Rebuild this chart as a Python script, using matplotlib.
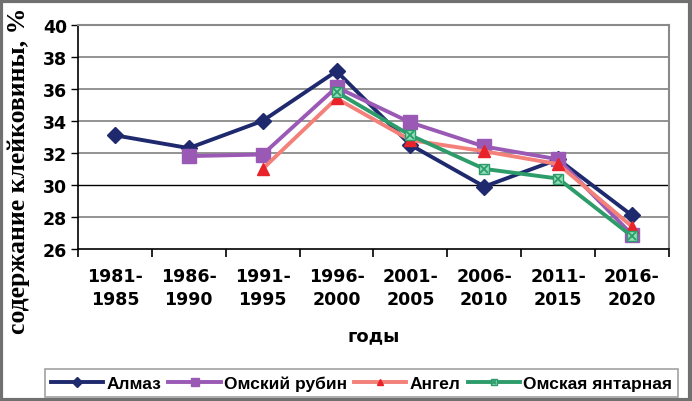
import matplotlib
matplotlib.use('Agg')
import matplotlib.pyplot as plt
import numpy as np
from matplotlib.patches import Rectangle
from matplotlib.legend_handler import HandlerTuple

periods = ['1981-\n1985', '1986-\n1990', '1991-\n1995', '1996-\n2000',
           '2001-\n2005', '2006-\n2010', '2011-\n2015', '2016-\n2020']
almaz = [33.1, 32.3, 34.0, 37.1, 32.5, 29.9, 31.6, 28.1]
rubin = [np.nan, 31.8, 31.9, 36.1, 33.9, 32.4, 31.6, 26.9]
angel = [np.nan, np.nan, 31.0, 35.4, 32.8, 32.1, 31.3, 27.4]
yantar = [np.nan, np.nan, np.nan, 35.8, 33.1, 31.0, 30.4, 26.8]

fig = plt.figure(figsize=(6.92, 4.02), dpi=100)
ax = fig.add_axes([0.1127, 0.378, 0.854, 0.558])
x = np.arange(len(periods))

# grid
for v in range(28, 41, 2):
    ax.axhline(v, color='black' if v == 30 else '#8a8a8a', lw=1.3 if v != 30 else 1.0, zorder=0)

l1, = ax.plot(x, almaz, color='#1f2a6e', lw=2.8, marker='D', ms=8, mec='#1f2a6e', label='Алмаз', zorder=3)
l2, = ax.plot(x, rubin, color='#9b59b6', lw=2.8, marker='s', ms=10, mec='#9b59b6', label='Омский рубин', zorder=4)
l3, = ax.plot(x, angel, color='#f4807a', lw=2.8, marker='^', ms=8, mfc='#e8232a', mec='#e8232a', label='Ангел', zorder=5)
l4, = ax.plot(x, yantar, color='#2e9c6a', lw=2.8, marker='s', ms=7, mfc='#8fe0b8', mec='#2e9c6a', label='Омская янтарная', zorder=6)
l4x, = ax.plot(x, yantar, ls='none', marker='x', ms=6, mew=1.3, color='#2e9c6a', zorder=7)

ax.set_xlim(-0.5, 7.5)
ax.set_ylim(26, 40)
ax.set_yticks(range(26, 41, 2))
ax.set_xticks(np.arange(-0.5, 8, 1))
ax.set_xticklabels([])
ax.set_xticks(x, minor=True)
ax.set_xticklabels(periods, minor=True)
ax.tick_params(axis='x', which='major', length=6, width=1.2, color='black', direction='out')
ax.tick_params(axis='x', which='minor', length=0, pad=13)
ax.tick_params(axis='y', length=5, width=1, direction='out', pad=3)
for lab in ax.get_xticklabels(minor=True) + ax.get_yticklabels():
    lab.set_fontfamily('DejaVu Sans')
    lab.set_fontweight('bold')
    lab.set_fontsize(12.5)
for lab in ax.get_xticklabels(minor=True):
    lab.set_linespacing(1.35)

ax.spines['left'].set_color('black')
ax.spines['bottom'].set_color('black')
ax.spines['left'].set_linewidth(1.2)
ax.spines['bottom'].set_linewidth(1.2)
ax.spines['top'].set_color('#8a8a8a')
ax.spines['right'].set_color('#8a8a8a')
ax.spines['top'].set_linewidth(1.5)
ax.spines['right'].set_linewidth(1.5)

ax.set_xlabel('годы', family='DejaVu Sans', fontweight='bold', fontsize=13, labelpad=13)
fig.text(0.027, 0.575, 'содержание клейковины, %', rotation=90, ha='center', va='center',
         family='Liberation Serif', fontweight='bold', fontsize=18.5)

leg = fig.legend([l1, l2, l3, (l4, l4x)], ['Алмаз', 'Омский рубин', 'Ангел', 'Омская янтарная'],
                 handler_map={tuple: HandlerTuple(ndivide=1)},
                 loc='lower left', bbox_to_anchor=(0.065, 0.01, 0.915, 0.087), mode='expand',
                 ncol=4, frameon=True, fancybox=False, edgecolor='#8a8a8a',
                 prop={'family': 'Liberation Sans', 'weight': 'bold', 'size': 12.5},
                 handlelength=3.0, handletextpad=0.2, columnspacing=0.6, borderaxespad=0,
                 markerscale=0.6, borderpad=0.35)
leg.get_frame().set_linewidth(1.2)

fig.patches.append(Rectangle((0.002, 0.003), 0.995, 0.993, transform=fig.transFigure,
                             fill=False, edgecolor='#707070', lw=3))

plt.savefig('out.png', dpi=100)
